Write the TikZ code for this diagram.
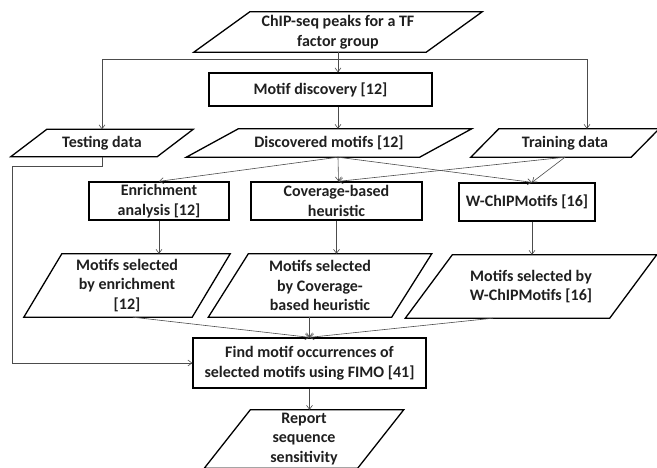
\documentclass[tikz,border=0pt]{standalone}
\usepackage{fontspec}
\setmainfont{Carlito}
\usetikzlibrary{arrows.meta}

% parallelogram round a named node, #2 = slant
\newcommand{\iobox}[2]{%
  \draw[ioline] ([xshift=#2/2]#1.north west) -- ([xshift=#2/2]#1.north east)
    -- ([xshift=-#2/2]#1.south east) -- ([xshift=-#2/2]#1.south west) -- cycle;}

\begin{document}
\begin{tikzpicture}[x=1pt,y=-1pt,>={Straight Barb[length=4pt,width=6pt]},
  every node/.style={font=\fontsize{16}{19.5}\selectfont\bfseries,text=black!88,align=center,inner sep=0pt},
  proc/.style={draw=black,line width=1.3pt},
  ioline/.style={draw=black,line width=1.3pt},
  link/.style={->,draw=black!70,line width=0.6pt}]
\useasboundingbox (0,0) rectangle (657,468);
\clip (0,0) rectangle (657,468);

\node[minimum width=232pt,minimum height=40pt] (src) at (338,32) {ChIP-seq peaks for a TF\\factor group};
\node[proc,minimum width=223pt,minimum height=33pt] (mdisc) at (320.5,89.5) {Motif discovery [12]};
\node[minimum width=146pt,minimum height=27pt] (test) at (102,143) {Testing data};
\node[minimum width=233pt,minimum height=28pt] (dmot) at (329,143) {Discovered motifs [12]};
\node[minimum width=160pt,minimum height=28pt] (train) at (565,143) {Training data};
\node[proc,minimum width=140pt,minimum height=38pt] (enr) at (159,201) {Enrichment\\analysis [12]};
\node[proc,minimum width=171pt,minimum height=38pt] (cov) at (336.5,201) {Coverage-based\\heuristic};
\node[proc,minimum width=136pt,minimum height=38pt] (wcm) at (527,202) {W-ChIPMotifs [16]};
\node[minimum width=168pt,minimum height=63pt] (selE) at (127,285.5) {Motifs selected\\by enrichment\\{[12]}};
\node[minimum width=183pt,minimum height=63pt] (selC) at (320,285.5) {Motifs selected\\by Coverage-\\based heuristic};
\node[minimum width=204pt,minimum height=63pt] (selW) at (531,286.5) {Motifs selected by\\W-ChIPMotifs [16]};
\node[proc,minimum width=233pt,minimum height=50pt] (find) at (309.5,363) {Find motif occurrences of\\selected motifs using FIMO [41]};
\node[minimum width=153pt,minimum height=58pt] (rep) at (304,439) {Report\\sequence\\sensitivity};

\iobox{src}{56}
\iobox{test}{36}
\iobox{dmot}{52}
\iobox{train}{28}
\iobox{selE}{38}
\iobox{selC}{40}
\iobox{selW}{47}
\iobox{rep}{46}

\coordinate (split) at (338,59);
\coordinate (dmb) at (src.south |- dmot.south);
\coordinate (lft) at (12,166);

\draw[link] (src.south) -- (src.south |- mdisc.north);
\draw[link] (split) -| (test.north);
\draw[link] (split) -| ([xshift=22pt]train.north);
\draw[link] (src.south |- mdisc.south) -- (src.south |- dmot.north);
\draw[link] (dmb) -- (enr.north);
\draw[link] (dmb) -- ([xshift=2pt]cov.north);
\draw[link] (dmb) -- ([xshift=5pt]wcm.north);
\draw[link] (train.south) -- ([xshift=2pt]cov.north);
\draw[link] (train.south) -- ([xshift=5pt]wcm.north);
\draw[link] (enr.south) -- (enr.south |- selE.north);
\draw[link] (cov.south) -- (cov.south |- selC.north);
\draw[link] ([xshift=5pt]wcm.south) -- ([xshift=5pt]wcm.south |- selW.north);
\draw[link] ([xshift=6pt]selE.south) -- (find.north);
\draw[link] (find.north |- selC.south) -- (find.north);
\draw[link] ([xshift=-38pt]selW.south) -- (find.north);
\draw[link] (test.south) |- (lft) |- (find.west);
\draw[link] (find.south) -- (find.south |- rep.north);
\end{tikzpicture}
\end{document}
